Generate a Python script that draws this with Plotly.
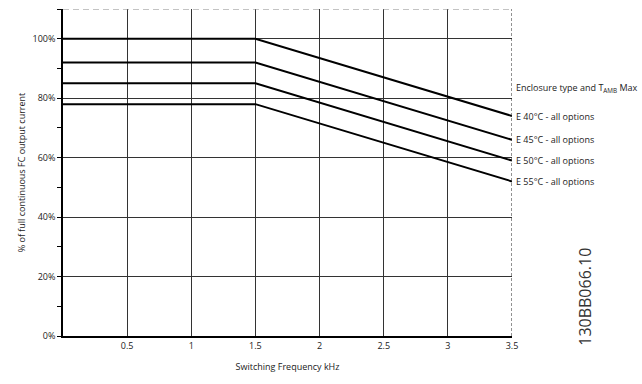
import plotly.graph_objects as go

freq_khz = [0, 1.5, 3.5]
e40 = [100, 100, 74]
e45 = [92, 92, 66]
e50 = [85, 85, 59]
e55 = [78, 78, 52]
series_names = ["E 40°C - all options", "E 45°C - all options", "E 50°C - all options", "E 55°C - all options"]
series_vals = [e40, e45, e50, e55]
x_ticks = [0.5, 1, 1.5, 2, 2.5, 3, 3.5]
x_tick_text = ["0.5", "1", "1.5", "2", "2.5", "3", "3.5"]
y_ticks = [0, 20, 40, 60, 80, 100]
y_tick_text = ["0%", "20%", "40%", "60%", "80%", "100%"]
header_text = "Enclosure type and T<sub>AMB</sub> Max"
header_y = 83.5
doc_id = "130BB066.10"

FONT = "Open Sans"
fig = go.Figure()
for name, vals in zip(series_names, series_vals):
    fig.add_trace(go.Scatter(x=freq_khz, y=vals, mode="lines", name=name,
                             line=dict(color="black", width=2), showlegend=False,
                             hoverinfo="skip"))
    fig.add_annotation(x=freq_khz[-1], y=vals[-1], text=name, showarrow=False,
                       xanchor="left", yanchor="middle", xshift=2,
                       font=dict(family=FONT, size=9, color="#222"))

fig.add_annotation(x=freq_khz[-1], y=header_y, text=header_text, showarrow=False,
                   xanchor="left", yanchor="middle", xshift=2,
                   font=dict(family=FONT, size=9, color="#222"))

fig.add_annotation(x=1, xref="paper", y=0.12, yref="paper", text=doc_id, showarrow=False,
                   textangle=-90, xanchor="center", yanchor="middle", xshift=73,
                   font=dict(family=FONT, size=16, color="#333"))

# top dashed border and right dashed border
fig.add_shape(type="line", xref="x", yref="y", x0=0, x1=3.5, y0=110, y1=110,
              line=dict(color="#888", width=1, dash="6px,4px"))
fig.add_shape(type="line", xref="x", yref="y", x0=3.5, x1=3.5, y0=0, y1=110,
              line=dict(color="#222", width=1, dash="3px,2px"))

fig.update_layout(
    width=642, height=384,
    margin=dict(l=63, r=130, t=9, b=48),
    plot_bgcolor="white", paper_bgcolor="white",
    font=dict(family=FONT, size=9, color="#222"),
    xaxis=dict(range=[0, 3.5], tickmode="array", tickvals=x_ticks, ticktext=x_tick_text,
               showgrid=True, gridcolor="#333", gridwidth=1,
               showline=True, linecolor="black", linewidth=1.5,
               ticks="", zeroline=False,
               title=dict(text="Switching Frequency kHz", font=dict(size=9), standoff=13),
               tickfont=dict(size=9)),
    yaxis=dict(range=[0, 110], tickmode="array", tickvals=y_ticks, ticktext=y_tick_text,
               showgrid=True, gridcolor="#333", gridwidth=1,
               showline=True, linecolor="black", linewidth=1.5,
               ticks="outside", ticklen=4, tickcolor="black", zeroline=False,
               minor=dict(dtick=10, tick0=0, ticks="outside", ticklen=4, tickcolor="black", showgrid=False),
               title=dict(text="% of full continuous FC output current", font=dict(size=9), standoff=5),
               tickfont=dict(size=9)),
)
fig.write_html("out.html")
